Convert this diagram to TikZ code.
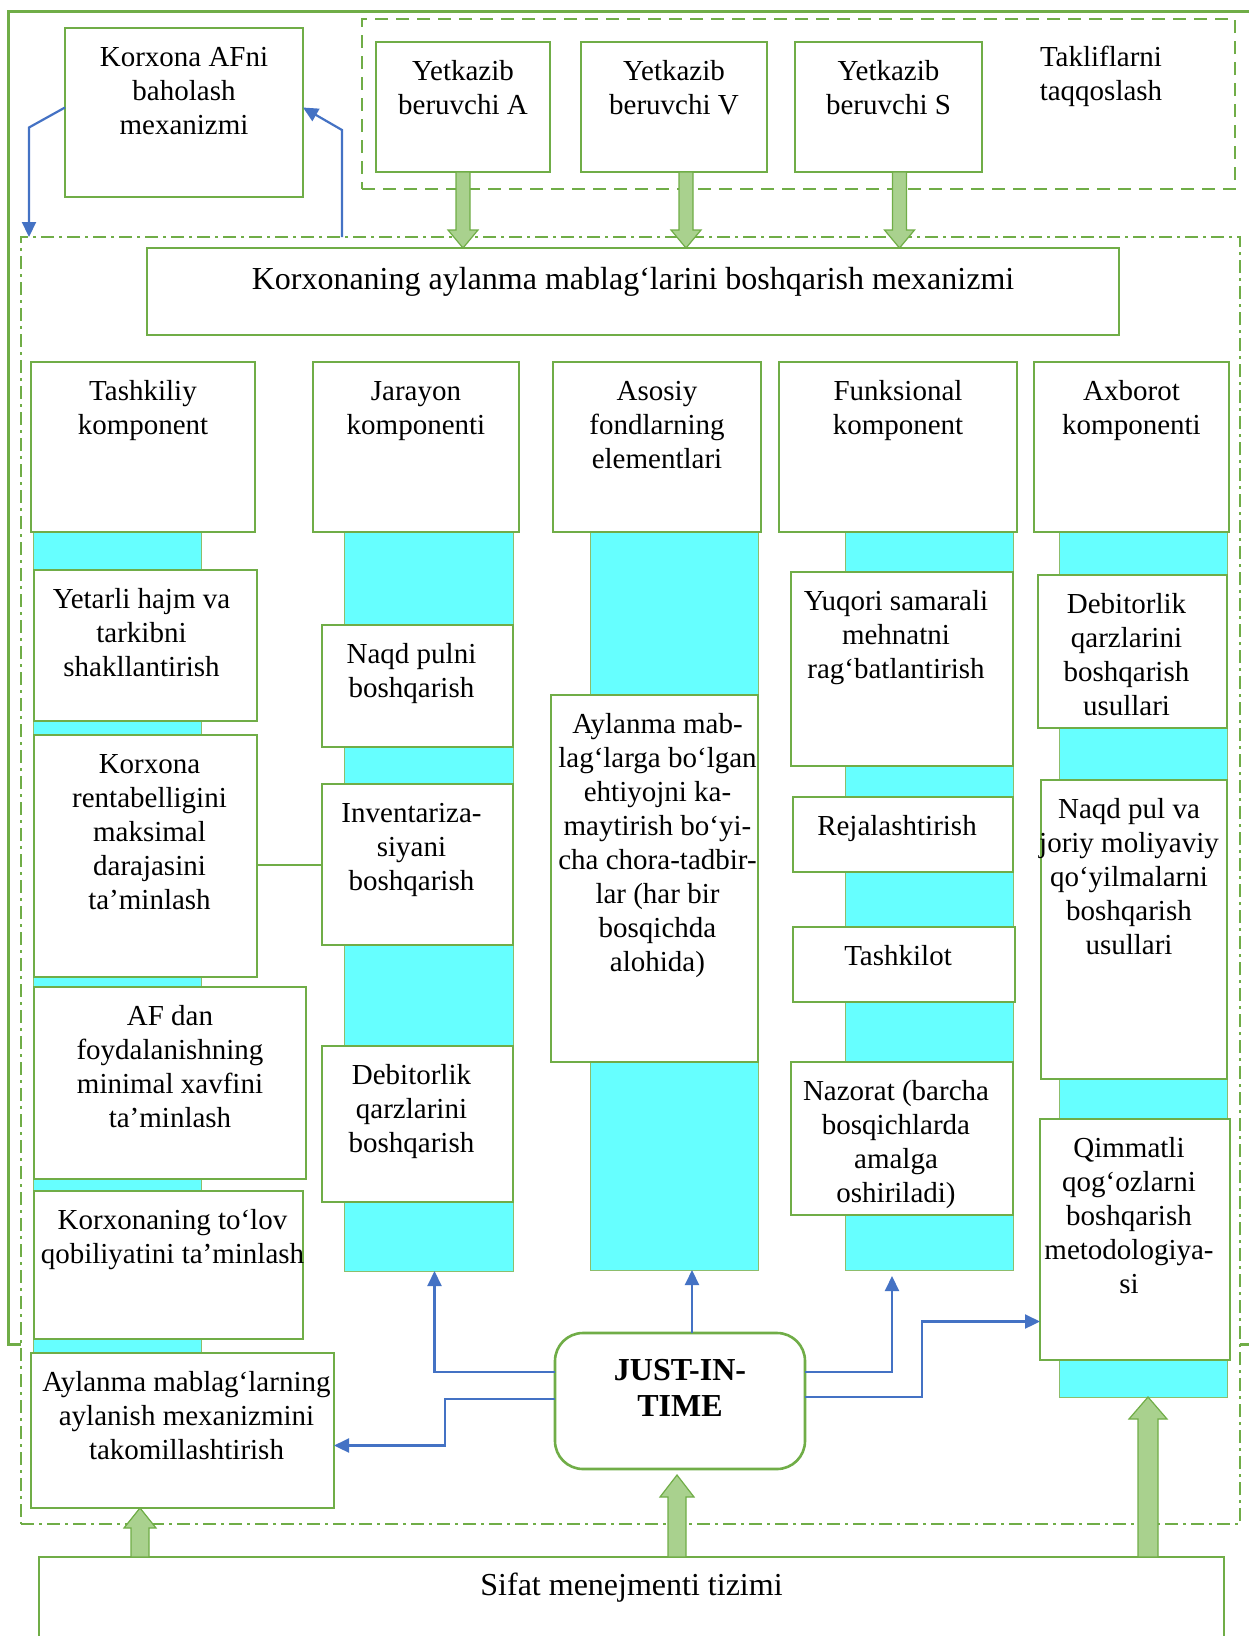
\documentclass[tikz,border=0pt]{standalone}
\usepackage{fontspec}
\setmainfont{Liberation Serif}
\usetikzlibrary{calc,arrows.meta}
\definecolor{gr}{HTML}{70AD47}
\definecolor{cy}{HTML}{66FFFF}
\definecolor{bl}{HTML}{4472C4}
\definecolor{af}{HTML}{A9D18E}
\newcommand\rnode[6][]{\node[#1,minimum width={(#5-#3)*1pt},minimum height={(#6-#4)*1pt},anchor=north west,inner sep=0pt,outer sep=0pt] (#2) at (#3,#4) {};}
\newcommand\tbox[7][0]{\rnode[gbox]{#2}{#3}{#4}{#5}{#6}\node[tx] (#2t) at ([xshift=#1pt,yshift=-14.2pt]#2.north) {\strut #7};}
\newcommand\vblock[5]{\filldraw[blk] let \p1=#1, \p2=#2 in (\x1-#3,\y1) -- (\x1+#3,\y1) -- (\x1+#3,\y2+#5) -- (\x1+#4,\y2+#5) -- (\x1,\y2) -- (\x1-#4,\y2+#5) -- (\x1-#3,\y2+#5) -- cycle;}
\begin{document}
\begin{tikzpicture}[x=1pt,y=-1pt,
 gbox/.style={draw=gr,line width=2.6pt,fill=white},
 tx/.style={font=\fontsize{29}{34}\selectfont,align=center,inner sep=0pt,anchor=north},
 cystrip/.style={fill=cy,draw=gr!80,line width=1pt},
 barrow/.style={draw=bl,line width=2.2pt,-{Triangle[length=15pt,width=14pt]}},
 blk/.style={fill=af,draw=gr,line width=1.2pt},
 gline/.style={draw=gr,line width=2pt}]
\useasboundingbox (0,0) rectangle (1248,1636);
% containers
\rnode[draw=gr,line width=3pt]{outer}{8}{11}{1258}{1344}
\rnode[draw=gr,line width=2.5pt,fill=white,dash pattern=on 13pt off 5pt on 3pt off 5pt]{dd}{21}{237}{1240}{1524}
\rnode[draw=gr,line width=2.5pt,dash pattern=on 13pt off 8pt]{sup}{362}{19}{1235}{189}
% top
\tbox{af}{65}{28}{303}{197}{Korxona AFni\\baholash\\mexanizmi}
\tbox{ya}{376}{42}{550}{172}{Yetkazib\\beruvchi A}
\tbox{yv}{581}{42}{767}{172}{Yetkazib\\beruvchi V}
\tbox{ys}{795}{42}{982}{172}{Yetkazib\\beruvchi S}
\node[tx] (tak) at (1101,42.2) {\strut Takliflarni\\taqqoslash};
\rnode[gbox]{title}{147}{248}{1119}{335}
\node[tx,font=\fontsize{32}{36}\selectfont] (titlet) at ([yshift=-15.8pt]title.north) {\strut Korxonaning aylanma mablag‘larini boshqarish mexanizmi};
% cyan strips
\rnode[cystrip]{cy1}{33}{532}{201}{1354}
\rnode[cystrip]{cy2}{344}{532}{513}{1271}
\rnode[cystrip]{cy3}{590}{532}{758}{1270}
\rnode[cystrip]{cy4}{845}{532}{1013}{1270}
\rnode[cystrip]{cy5}{1059}{532}{1227}{1397}
% headers
\tbox{h1}{31}{362}{255}{532}{Tashkiliy\\komponent}
\tbox{h2}{313}{362}{519}{532}{Jarayon\\komponenti}
\tbox{h3}{553}{362}{761}{532}{Asosiy\\fondlarning\\elementlari}
\tbox{h4}{779}{362}{1017}{532}{Funksional\\komponent}
\tbox{h5}{1034}{362}{1229}{532}{Axborot\\komponenti}
% column 1
\tbox[-4]{a1}{34}{570}{257}{721}{Yetarli hajm va\\tarkibni\\shakllantirish}
\tbox[4]{a2}{34}{735}{257}{977}{Korxona\\rentabelligini\\maksimal\\darajasini\\ta’minlash}
\tbox{a3}{34}{987}{306}{1179}{AF dan\\foydalanishning\\minimal xavfini\\ta’minlash}
\tbox[4]{a4}{34}{1191}{303}{1339}{Korxonaning to‘lov\\qobiliyatini ta’minlash}
\tbox[4]{a5}{31}{1353}{334}{1508}{Aylanma mablag‘larning\\aylanish mexanizmini\\takomillashtirish}
% column 2
\tbox[-6]{b1}{322}{625}{513}{747}{Naqd pulni\\boshqarish}
\tbox[-6]{b2}{322}{784}{513}{945}{Inventariza-\\siyani\\boshqarish}
\tbox[-6]{b3}{322}{1046}{513}{1202}{Debitorlik\\qarzlarini\\boshqarish}
% column 3
\tbox[3]{c1}{551}{695}{758}{1062}{Aylanma mab-\\lag‘larga bo‘lgan\\ehtiyojni ka-\\maytirish bo‘yi-\\cha chora-tadbir-\\lar (har bir\\bosqichda\\alohida)}
% column 4
\tbox[-6]{d1}{791}{572}{1013}{766}{Yuqori samarali\\mehnatni\\rag‘batlantirish}
\tbox[-6]{d2}{793}{797}{1013}{872}{Rejalashtirish}
\tbox[-6]{d3}{793}{927}{1015}{1002}{Tashkilot}
\tbox[-6]{d4}{791}{1062}{1013}{1215}{Nazorat (barcha\\bosqichlarda\\amalga\\oshiriladi)}
% column 5
\tbox[-6]{e1}{1038}{575}{1227}{728}{Debitorlik\\qarzlarini\\boshqarish\\usullari}
\tbox[-5]{e2}{1041}{780}{1227}{1079}{Naqd pul va\\joriy moliyaviy\\qo‘yilmalarni\\boshqarish\\usullari}
\tbox[-6]{e3}{1040}{1119}{1230}{1360}{Qimmatli\\qog‘ozlarni\\boshqarish\\metodologiya-\\si}
% JIT and Sifat
\rnode[gbox,rounded corners=28pt]{jit}{555}{1333}{805}{1469}
\node[tx,font=\bfseries\fontsize{32}{36}\selectfont] (jitt) at ([yshift=-21.8pt]jit.north) {\strut JUST-IN-\\TIME};
\rnode[gbox]{sif}{39}{1557}{1224}{1660}
\node[tx,font=\fontsize{32}{36}\selectfont] (sift) at ([yshift=-12.8pt]sif.north) {\strut Sifat menejmenti tizimi};
% connectors
\draw[gline] (b2.west) -- (b2.west -| a2.east);
\draw[barrow] ([yshift=5pt]af.west) -- ++(-36,20) -- ([xshift=8pt]dd.north west);
\draw[barrow] ([xshift=321pt]dd.north west) -- ++(0,-107) -- ([yshift=5pt]af.east);
\draw[barrow] ([xshift=12pt]jit.north) -- ([xshift=12pt]jit.north |- cy3.south);
\draw[barrow] ([yshift=29pt]jit.west) -| ([xshift=6pt]cy2.south);
\draw[barrow] ([yshift=2pt]jit.west) -- ++(-110,0) |- ([yshift=-15pt]a5.east);
\draw[barrow] ([yshift=29pt]jit.east) -| ([xshift=-37pt,yshift=-6pt]cy4.south);
\draw[barrow] ([yshift=4pt]jit.east) -- ++(117,0) |- ([yshift=-82pt]e3.west);
% block arrows
\vblock{(ya.south)}{(title.north)}{7pt}{15pt}{18pt}
\vblock{([xshift=12pt]yv.south)}{(title.north)}{7pt}{15pt}{18pt}
\vblock{([xshift=11pt]ys.south)}{(title.north)}{7pt}{15pt}{18pt}
\vblock{([xshift=101pt]sif.north west)}{(a5.south)}{9pt}{16pt}{-20pt}
\vblock{([xshift=638pt]sif.north west)}{([yshift=-6pt]jit.south)}{9pt}{17pt}{-22pt}
\vblock{([xshift=1109pt]sif.north west)}{(cy5.south)}{10pt}{19pt}{-22pt}
\end{tikzpicture}
\end{document}
